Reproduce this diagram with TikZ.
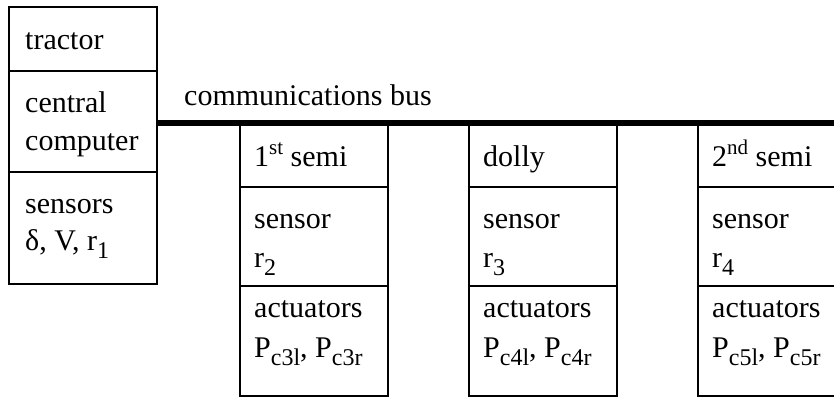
\documentclass[tikz,border=0pt]{standalone}
\usepackage{fontspec}
\setmainfont{Liberation Serif}
% lowered and raised indices in the label font
\newcommand\lowidx[1]{\raisebox{-8pt}{\fontsize{24}{24}\selectfont #1}}
\newcommand\highidx[1]{\raisebox{11pt}{\fontsize{21}{21}\selectfont #1}}
\begin{document}
\begin{tikzpicture}[x=1pt,y=-1pt,
  cell/.style={draw, line width=1.8pt, inner sep=0pt, outer sep=0pt,
               minimum width=148pt, anchor=north west},
  txt/.style={font=\fontsize{30}{38}\selectfont, inner sep=0pt, anchor=base west},
  bus/.style={line width=5.5pt}]
\useasboundingbox (0,0) rectangle (834,398);
\fill[white] (0,0) rectangle (834,398);
\clip (0,0) rectangle (834,398);

% tractor unit
\node[cell, minimum height=64pt]  (tTop) at (9,7) {};
\node[cell, minimum height=101pt] (tMid) at (tTop.south west) {};
\node[cell, minimum height=112pt] (tBot) at (tMid.south west) {};
\node[txt] (tTitle) at (25,50)  {tractor};
\node[txt] (tCpuA)  at (25,113) {central};
\node[txt] (tCpuB)  at (25,150) {computer};
\node[txt] (tSenA)  at (25,213) {sensors};
\node[txt] (tSenB)  at (25,250) {δ, V, r\lowidx{1}};

% communications bus
\coordinate (busEnd) at (840,123);
\draw[bus] (tMid.east |- busEnd) -- (busEnd);
\node[txt] (busLabel) at (184,106) {communications bus};

% trailing units hanging from the bus
\foreach \n/\x/\title/\r/\a in {
    A/240/{1\highidx{st} semi}/2/3,
    B/469/{dolly}/3/4,
    C/698/{2\highidx{nd} semi}/4/5}{
  \node[cell, minimum height=62pt] (\n Top) at (\x,125) {};
  \node[cell, minimum height=99pt] (\n Mid) at (\n Top.south west) {};
  \node[cell, minimum height=110pt] (\n Bot) at (\n Mid.south west) {};
  \node[txt] (\n Title) at (\x+14,166) {\title};
  \node[txt] (\n SenA)  at (\x+14,228) {sensor};
  \node[txt] (\n SenB)  at (\x+14,267) {r\lowidx{\r}};
  \node[txt] (\n ActA)  at (\x+14,317) {actuators};
  \node[txt] (\n ActB)  at (\x+14,357) {P\lowidx{c\a l}, P\lowidx{c\a r}};
}
\end{tikzpicture}
\end{document}
